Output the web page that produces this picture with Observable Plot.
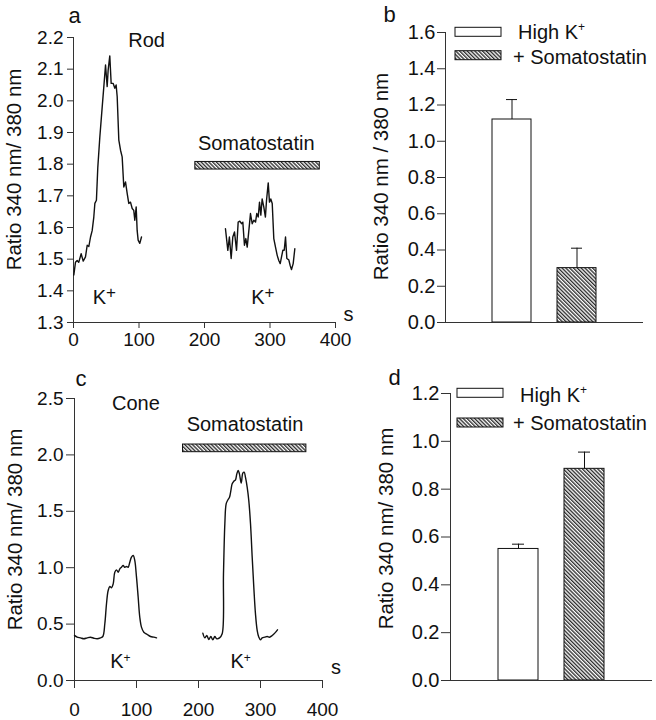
<!DOCTYPE html>
<html>
<head>
<meta charset="utf-8">
<script src="https://cdn.jsdelivr.net/npm/d3@7"></script>
<script src="https://cdn.jsdelivr.net/npm/@observablehq/plot@0.6"></script>
<style>
  body { margin: 0; background: white; }
  #fig { position: relative; width: 656px; height: 720px; background: white; overflow: hidden; }
  #fig svg { position: absolute; overflow: visible; }
</style>
</head>
<body>
<div id="fig"></div>
<script>
// ---------------- data ----------------
const timeTicks = [0, 100, 200, 300, 400];
const rodRatioTicks = [1.3, 1.4, 1.5, 1.6, 1.7, 1.8, 1.9, 2.0, 2.1, 2.2];
const coneRatioTicks = [0, 0.5, 1.0, 1.5, 2.0, 2.5];
const rodBarTicks = [0, 0.2, 0.4, 0.6, 0.8, 1.0, 1.2, 1.4, 1.6];
const coneBarTicks = [0, 0.2, 0.4, 0.6, 0.8, 1.0, 1.2];

const conditions = ["High K+", "+ Somatostatin"];
const rodMeans = [1.12, 0.30];
const rodSems = [0.11, 0.11];
const coneMeans = [0.55, 0.885];
const coneSems = [0.02, 0.07];

// [time (s), ratio]
const rodControl = [[0.5,1.45],[3,1.49],[5.6,1.496],[8,1.49],[11.7,1.517],[14.8,1.494],[18.3,1.507],[20.9,1.544],[23.4,1.54],[26,1.57],[28.5,1.59],[31,1.633],[32.6,1.676],[35,1.686],[37.1,1.79],[40.2,1.886],[43.8,1.98],[46.3,2.045],[48.9,2.113],[51.4,2.045],[52.9,2.097],[55.4,2.142],[57.5,2.055],[60.6,2.055],[63.1,2.04],[65.1,2.05],[66.7,2.013],[69.2,1.876],[71.8,1.844],[74.3,1.823],[76.8,1.728],[79.4,1.744],[82,1.707],[84.4,1.676],[87,1.68],[89.6,1.66],[92,1.654],[93.6,1.623],[95.7,1.665],[97.2,1.59],[98.7,1.56],[101.2,1.55],[103.8,1.57]];
const rodSomato = [[232,1.596],[235.6,1.528],[238,1.57],[240.7,1.502],[243.2,1.57],[245.8,1.586],[248.9,1.528],[251.4,1.617],[253.9,1.62],[256.5,1.612],[258.5,1.617],[261,1.544],[263.1,1.565],[265.2,1.538],[267.7,1.59],[270.2,1.644],[272.8,1.612],[275.3,1.623],[277.9,1.617],[279.8,1.644],[282,1.633],[284,1.68],[286,1.639],[288,1.69],[290.5,1.665],[293,1.633],[294.7,1.686],[297.3,1.741],[299.2,1.68],[301.2,1.69],[303.4,1.676],[305.8,1.565],[308.4,1.538],[311,1.512],[313.4,1.496],[315.6,1.486],[317.6,1.507],[319.6,1.528],[321.7,1.528],[323.7,1.57],[325.7,1.502],[328.7,1.498],[330.8,1.48],[332.8,1.467],[335.4,1.486],[337.9,1.533]];
const coneControl = [[0,0.40],[4.3,0.384],[9.7,0.378],[15,0.37],[20.4,0.378],[25.8,0.384],[31.2,0.375],[36.6,0.37],[41.9,0.378],[45.7,0.39],[48.9,0.503],[51.6,0.68],[54.3,0.798],[57,0.833],[59.7,0.822],[62.4,0.857],[65,0.96],[67.7,0.981],[70.5,0.96],[73.1,0.99],[75.8,1.004],[78.5,1.02],[81.1,1.004],[83.9,1.01],[86.6,1.004],[89.2,1.049],[91.9,1.093],[94.7,1.108],[97.2,1.064],[100,0.916],[102.7,0.738],[105.3,0.561],[108,0.473],[111.8,0.428],[117.3,0.408],[122.6,0.39],[127.9,0.384],[132.3,0.378]];
const coneSomato = [[207,0.42],[210.2,0.378],[213.4,0.399],[216.6,0.363],[219.9,0.39],[223.1,0.36],[226.3,0.39],[229.5,0.37],[233.9,0.378],[238.2,0.414],[240.3,0.946],[242.5,1.389],[244.6,1.566],[247.3,1.60],[250,1.625],[252.2,1.684],[254.3,1.744],[257,1.767],[259.7,1.779],[261.8,1.832],[264,1.862],[266,1.832],[268.9,1.75],[271.5,1.838],[273.7,1.847],[275.8,1.80],[278.5,1.714],[281.1,1.596],[283.9,1.389],[286.6,1.093],[289.2,0.827],[291.9,0.591],[294.7,0.443],[297.3,0.384],[300,0.36],[302.7,0.378],[306.9,0.384],[310.8,0.39],[314.5,0.384],[318.9,0.399],[323,0.42],[327.4,0.449]];

// somatostatin application bars: [start s, end s, low ratio, high ratio]
const rodSomatoBar = [{start: 186, end: 376, lo: 1.783, hi: 1.807}];
const coneSomatoBar = [{start: 175, end: 374, lo: 2.024, hi: 2.092}];

const rodNotes = [
  {t: 111.5, v: 2.17, label: "Rod"},
  {t: 279, v: 1.844, label: "Somatostatin"},
  {t: 47, v: 1.36, label: "K+"},
  {t: 289, v: 1.36, label: "K+"}
];
const coneNotes = [
  {t: 99, v: 2.40, label: "Cone"},
  {t: 275, v: 2.216, label: "Somatostatin"},
  {t: 74, v: 0.115, label: "K+"},
  {t: 268, v: 0.115, label: "K+"}
];
const yLabelA = "Ratio 340 nm/ 380 nm";
const yLabelB = "Ratio 340 nm / 380 nm";
const unitLabel = "s";

// ---------------- helpers ----------------
const FONT = "'Liberation Sans', Arial, Helvetica, sans-serif";
const INK = "#111";
const AX = "#333";
const fig = document.getElementById("fig");

function addHatch(svg, id) {
  const defs = d3.select(svg).insert("defs", ":first-child");
  const s = 2.7;
  const p = defs.append("pattern").attr("id", id).attr("patternUnits", "userSpaceOnUse")
    .attr("width", s).attr("height", s).attr("patternTransform", "rotate(-45)");
  p.append("rect").attr("width", s).attr("height", s).attr("fill", "white");
  p.append("line").attr("x1", 0.7).attr("y1", 0).attr("x2", 0.7).attr("y2", s)
    .attr("stroke", INK).attr("stroke-width", 1.2);
}
function supPlus(svg, size, shift) {
  d3.select(svg).selectAll("text").each(function () {
    if (this.textContent === "K+" && this.childElementCount === 0) {
      this.textContent = "K";
      d3.select(this).append("tspan").attr("font-size", size).attr("dy", shift).text("+");
    }
  });
}
function place(svg, left, top) {
  svg.style.position = "absolute";
  svg.style.left = left + "px";
  svg.style.top = top + "px";
  fig.appendChild(svg);
}
function addLegend(svg, hatchId, x0, rows) {
  const g = d3.select(svg).append("g").attr("font-family", FONT).attr("font-size", 20).attr("fill", INK);
  rows.forEach((r, i) => {
    g.append("rect").attr("x", x0).attr("y", r.ry).attr("width", 46).attr("height", 9)
      .attr("fill", i === 0 ? "white" : `url(#${hatchId})`).attr("stroke", INK).attr("stroke-width", 1);
    const t = g.append("text").attr("x", r.tx).attr("y", r.ty).attr("text-anchor", "start");
    if (i === 0) {
      t.text("High K");
      t.append("tspan").attr("font-size", 12).attr("dy", -8).text("+");
    } else {
      t.text(conditions[1]);
    }
  });
}
function tableOf(means, sems) {
  return conditions.map((c, i) => ({cond: c, mean: means[i], top: means[i] + sems[i]}));
}

// ---------------- panel a ----------------
const pa = Plot.plot({
  width: 358, height: 360,
  marginLeft: 73, marginRight: 23, marginTop: 37, marginBottom: 38,
  style: {fontFamily: FONT, fontSize: "19px", color: INK, background: "transparent", overflow: "visible"},
  x: {domain: [0, 400]},
  y: {domain: [1.3, 2.2]},
  marks: [
    Plot.ruleY([1.3], {stroke: AX}),
    Plot.ruleX([0], {stroke: AX}),
    Plot.axisX({ticks: timeTicks, tickFormat: d3.format("d"), tickSize: 6, tickPadding: 4, label: null, stroke: AX}),
    Plot.axisY({ticks: rodRatioTicks, tickFormat: d3.format(".1f"), tickSize: 6, tickPadding: 4, label: null, stroke: AX}),
    Plot.rect(rodSomatoBar, {x1: "start", x2: "end", y1: "lo", y2: "hi", fill: "url(#hatchA)", stroke: INK, strokeWidth: 1}),
    Plot.line(rodControl, {x: d => d[0], y: d => d[1], stroke: INK, strokeWidth: 1.4}),
    Plot.line(rodSomato, {x: d => d[0], y: d => d[1], stroke: INK, strokeWidth: 1.4}),
    Plot.text(rodNotes, {x: "t", y: "v", text: "label", textAnchor: "middle", lineAnchor: "bottom", fontSize: 20}),
    Plot.text(["a"], {text: d => d, frameAnchor: "top-left", textAnchor: "middle", dx: 1, dy: -15, lineAnchor: "bottom", fontSize: 22}),
    Plot.text([unitLabel], {text: d => d, frameAnchor: "bottom-right", textAnchor: "middle", dx: 13, dy: -2, lineAnchor: "bottom", fontSize: 20}),
    Plot.text([yLabelA], {text: d => d, frameAnchor: "left", textAnchor: "middle", lineAnchor: "middle", rotate: -90, dx: -59, dy: -10.5, fontSize: 20.5})
  ]
});
addHatch(pa, "hatchA");
supPlus(pa, "0.85em", "-0.33em");
place(pa, 0, 0);

// ---------------- panel b ----------------
const rodTable = tableOf(rodMeans, rodSems);
const pb = Plot.plot({
  width: 298, height: 360,
  marginLeft: 87, marginRight: 13, marginTop: 32, marginBottom: 38,
  style: {fontFamily: FONT, fontSize: "20px", color: INK, background: "transparent", overflow: "visible"},
  x: {type: "band", domain: conditions, paddingInner: 0.396, paddingOuter: 0.712, align: 0.5, axis: null},
  y: {domain: [0, 1.6]},
  marks: [
    Plot.axisY({ticks: rodBarTicks, tickFormat: d3.format(".1f"), tickSize: 8, tickPadding: 2, label: null, stroke: AX}),
    Plot.barY(rodTable.slice(0, 1), {x: "cond", y: "mean", fill: "white", stroke: INK, strokeWidth: 1}),
    Plot.barY(rodTable.slice(1), {x: "cond", y: "mean", fill: "url(#hatchB)", stroke: INK, strokeWidth: 1}),
    Plot.ruleX(rodTable, {x: "cond", y1: "mean", y2: "top", stroke: INK}),
    Plot.tickY(rodTable, {x: "cond", y: "top", stroke: INK, insetLeft: 14, insetRight: 14}),
    Plot.ruleY([0], {stroke: AX}),
    Plot.frame({anchor: "left", stroke: AX}),
    Plot.text(["b"], {text: d => d, frameAnchor: "top-left", textAnchor: "middle", dx: -56, dy: -11, lineAnchor: "bottom", fontSize: 22}),
    Plot.text([yLabelB], {text: d => d, frameAnchor: "left", textAnchor: "middle", lineAnchor: "middle", rotate: -90, dx: -64, dy: -1, fontSize: 20.5})
  ]
});
addHatch(pb, "hatchB");
addLegend(pb, "hatchB", 97, [{ry: 27.3, tx: 160, ty: 39}, {ry: 50.7, tx: 155, ty: 63.5}]);
place(pb, 358, 0);

// ---------------- panel c ----------------
const pc = Plot.plot({
  width: 358, height: 360,
  marginLeft: 74, marginRight: 36, marginTop: 38, marginBottom: 40,
  style: {fontFamily: FONT, fontSize: "19px", color: INK, background: "transparent", overflow: "visible"},
  x: {domain: [0, 400]},
  y: {domain: [0, 2.5]},
  marks: [
    Plot.ruleY([0], {stroke: AX}),
    Plot.ruleX([0], {stroke: AX}),
    Plot.axisX({ticks: timeTicks, tickFormat: d3.format("d"), tickSize: 8, tickPadding: 14, label: null, stroke: AX}),
    Plot.axisY({ticks: coneRatioTicks, tickFormat: d3.format(".1f"), tickSize: 8, tickPadding: 3, label: null, stroke: AX}),
    Plot.rect(coneSomatoBar, {x1: "start", x2: "end", y1: "lo", y2: "hi", fill: "url(#hatchC)", stroke: INK, strokeWidth: 1}),
    Plot.line(coneControl, {x: d => d[0], y: d => d[1], stroke: INK, strokeWidth: 1.4, curve: "catmull-rom"}),
    Plot.line(coneSomato, {x: d => d[0], y: d => d[1], stroke: INK, strokeWidth: 1.4, curve: "catmull-rom"}),
    Plot.text(coneNotes, {x: "t", y: "v", text: "label", textAnchor: "middle", lineAnchor: "bottom", fontSize: 20}),
    Plot.text(["c"], {text: d => d, frameAnchor: "top-left", textAnchor: "middle", dx: 6.5, dy: -13, lineAnchor: "bottom", fontSize: 22}),
    Plot.text([unitLabel], {text: d => d, frameAnchor: "bottom-right", textAnchor: "middle", dx: 13.5, dy: -7, lineAnchor: "bottom", fontSize: 20}),
    Plot.text([yLabelA], {text: d => d, frameAnchor: "left", textAnchor: "middle", lineAnchor: "middle", rotate: -90, dx: -59.5, dy: -10, fontSize: 20.5})
  ]
});
addHatch(pc, "hatchC");
supPlus(pc, "0.6em", "-0.5em");
place(pc, 0, 360);

// ---------------- panel d ----------------
const coneTable = tableOf(coneMeans, coneSems);
const pd = Plot.plot({
  width: 298, height: 360,
  marginLeft: 92, marginRight: 4, marginTop: 33, marginBottom: 40,
  style: {fontFamily: FONT, fontSize: "20px", color: INK, background: "transparent", overflow: "visible"},
  x: {type: "band", domain: conditions, paddingInner: 0.387, paddingOuter: 0.71, align: 0.5, axis: null},
  y: {domain: [0, 1.2]},
  marks: [
    Plot.axisY({ticks: coneBarTicks, tickFormat: d3.format(".1f"), tickSize: 9, tickPadding: 2, label: null, stroke: AX}),
    Plot.barY(coneTable.slice(0, 1), {x: "cond", y: "mean", fill: "white", stroke: INK, strokeWidth: 1}),
    Plot.barY(coneTable.slice(1), {x: "cond", y: "mean", fill: "url(#hatchD)", stroke: INK, strokeWidth: 1}),
    Plot.ruleX(coneTable, {x: "cond", y1: "mean", y2: "top", stroke: INK}),
    Plot.tickY(coneTable, {x: "cond", y: "top", stroke: INK, insetLeft: 14, insetRight: 14}),
    Plot.ruleY([0], {stroke: AX}),
    Plot.frame({anchor: "left", stroke: AX}),
    Plot.text(["d"], {text: d => d, frameAnchor: "top-left", textAnchor: "middle", dx: -56, dy: -9, lineAnchor: "bottom", fontSize: 22}),
    Plot.text([yLabelA], {text: d => d, frameAnchor: "left", textAnchor: "middle", lineAnchor: "middle", rotate: -90, dx: -64.5, dy: -8.5, fontSize: 20.5})
  ]
});
addHatch(pd, "hatchD");
addLegend(pd, "hatchD", 99, [{ry: 28.3, tx: 162, ty: 41.5}, {ry: 58, tx: 155, ty: 70}]);
place(pd, 358, 360);
</script>
</body>
</html>
